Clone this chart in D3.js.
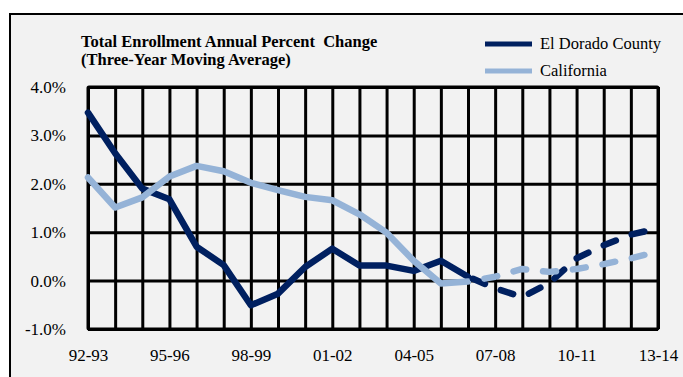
<!DOCTYPE html>
<html><head><meta charset="utf-8">
<script src="https://cdn.jsdelivr.net/npm/d3@7"></script>
<style>body{margin:0;background:#fff;} svg{display:block;} svg text{font-family:"Liberation Serif","DejaVu Serif",serif;}</style>
</head><body>
<svg id="c" width="683" height="377"></svg>
<script>
// ---- data ----
const categories = ["92-93","93-94","94-95","95-96","96-97","97-98","98-99","99-00","00-01","01-02","02-03","03-04","04-05","05-06","06-07","07-08","08-09","09-10","10-11","11-12","12-13","13-14"];
const xTickLabels = ["92-93","95-96","98-99","01-02","04-05","07-08","10-11","13-14"];
const yTicks = [-1, 0, 1, 2, 3, 4];
const elDoradoActual = [3.47,2.63,1.90,1.68,0.70,0.32,-0.51,-0.27,0.28,0.66,0.31,0.31,0.20,0.41,0.08];
const californiaActual = [2.13,1.51,1.72,2.15,2.37,2.26,2.02,1.87,1.73,1.66,1.37,0.99,0.41,-0.06,-0.02];
const projectedCategories = categories.slice(14);
const elDoradoProjected = [0.08,-0.16,-0.34,-0.05,0.46,0.73,0.95,1.08];
const californiaProjected = [-0.02,0.08,0.24,0.18,0.24,0.34,0.46,0.60];
const seriesNames = ["El Dorado County", "California"];
const colors = ["#002060", "#95b3d7"];

// ---- layout ----
const svg = d3.select("#c");
const pL = 88, pR = 658, pT = 87, pB = 329;
const x = d3.scalePoint().domain(categories).range([pL, pR]).padding(0);
const y = d3.scaleLinear().domain([-1, 4]).range([pB, pT]);
const fontFam = '"Liberation Serif","DejaVu Serif",serif';

// outer frame
svg.append("rect").attr("x", 10).attr("y", 14).attr("width", 700).attr("height", 400)
  .attr("fill", "#f2f2f2").attr("stroke", "#000").attr("stroke-width", 2);

// gridlines
const gy = svg.append("g").attr("transform", `translate(${pL},0)`)
  .call(d3.axisLeft(y).tickValues(yTicks).tickSize(-(pR - pL)).tickFormat(""));
const gx = svg.append("g").attr("transform", `translate(0,${pB})`)
  .call(d3.axisBottom(x).tickSize(-(pB - pT)).tickFormat(""));
[gy, gx].forEach(g => {
  g.select(".domain").remove();
  g.selectAll("line").attr("stroke", "#000").attr("stroke-width", 3);
});
svg.append("rect").attr("x", pL).attr("y", pT).attr("width", pR - pL).attr("height", pB - pT)
  .attr("fill", "none").attr("stroke", "#000").attr("stroke-width", 3).attr("rx", 1);

// axis labels
const ly = svg.append("g").attr("transform", `translate(${pL},0)`)
  .call(d3.axisLeft(y).tickValues(yTicks).tickSize(0).tickPadding(22).tickFormat(v => v.toFixed(1) + "%"));
const lx = svg.append("g").attr("transform", `translate(0,${pB})`)
  .call(d3.axisBottom(x).tickValues(xTickLabels).tickSize(0).tickPadding(20));
[ly, lx].forEach(g => {
  g.attr("font-family", null).attr("font-size", null);
  g.select(".domain").remove();
  g.selectAll("text").style("font-family", fontFam).style("font-size", "17px").attr("fill", "#000");
});

// lines
const line = d3.line().x(d => x(d.c)).y(d => y(d.v));
const toPts = (cats, vals) => vals.map((v, i) => ({c: cats[i], v}));
function draw(pts, color, dashed) {
  const p = svg.append("path").datum(pts).attr("d", line)
    .attr("fill", "none").attr("stroke", color).attr("stroke-width", 6.5)
    .attr("stroke-linejoin", "round").attr("stroke-linecap", "round");
  if (dashed) {
    // long-dash pattern, phased so the final dash stops short of the last point
    const L = p.node().getTotalLength();
    const dash = 13, gap = 17, period = dash + gap;
    const endAt = L - 14;
    const off = (((dash - endAt) % period) + period) % period;
    p.attr("stroke-dasharray", `${dash},${gap}`).attr("stroke-dashoffset", off);
  }
}
draw(toPts(categories, elDoradoActual), colors[0], false);
draw(toPts(categories, californiaActual), colors[1], false);
draw(toPts(projectedCategories, elDoradoProjected), colors[0], true);
draw(toPts(projectedCategories, californiaProjected), colors[1], true);

// title
const title = svg.append("text").style("font-family", fontFam).style("font-weight", "bold").style("font-size", "16.5px").attr("fill", "#000").style("white-space", "pre");
title.append("tspan").attr("x", 81).attr("y", 46.5).text("Total Enrollment Annual Percent  Change");
title.append("tspan").attr("x", 81).attr("y", 64.5).text("(Three-Year Moving Average)");

// legend
const legY = [44, 71];
seriesNames.forEach((name, i) => {
  svg.append("line").attr("x1", 485).attr("x2", 532).attr("y1", legY[i]).attr("y2", legY[i])
    .attr("stroke", colors[i]).attr("stroke-width", 5);
  svg.append("text").attr("x", 540).attr("y", legY[i] + 5).style("font-family", fontFam)
    .style("font-size", "16.5px").attr("fill", "#000").text(name);
});
</script>
</body></html>
